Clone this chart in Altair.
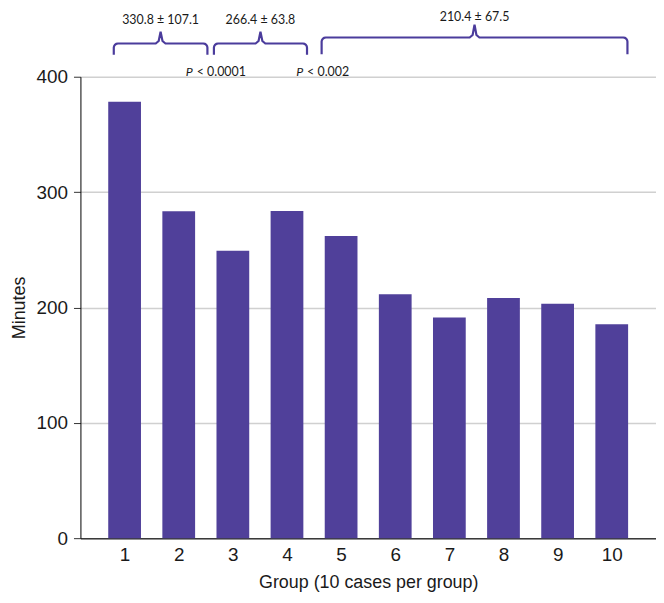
import altair as alt
import pandas as pd
import numpy as np

# ---- data ----
groups = list(range(1, 11))
minutes = [378.3, 283.3, 249.1, 283.7, 262.0, 211.5, 191.2, 208.2, 203.3, 185.5]

bracket_start = [0.80, 2.65, 4.64]
bracket_end = [2.53, 4.37, 10.29]
bracket_base = [419.0, 419.0, 419.4]
bracket_level = [428.8, 428.8, 434.0]
bracket_peak = [439.1, 439.1, 445.2]
bracket_labels = ["330.8 ± 107.1", "266.4 ± 63.8", "210.4 ± 67.5"]
bracket_label_y = [449.0, 449.0, 452.0]

p_x = [2.13, 4.17]
p_y = [400.4, 400.4]
p_text = ["< 0.0001", "< 0.002"]

BAR = "#50409A"
BRACE = "#4B3C9C"
INK = "#1a1a1a"

xscale = alt.Scale(domain=[0.2757, 10.726], nice=False, zero=False)
yscale = alt.Scale(domain=[0, 400], nice=False)

bars_df = pd.DataFrame({"group": groups, "minutes": minutes})

# build brace outlines from the bracket parameters
rows = []
rx, ry = 0.075, 3.6  # corner rounding (data units)
for b, (x0, x1, yb, yl, yp) in enumerate(zip(bracket_start, bracket_end, bracket_base,
                                            bracket_level, bracket_peak)):
    xm = (x0 + x1) / 2
    pts = [(x0, yb), (x0, yl - ry)]
    for a in np.linspace(np.pi, np.pi / 2, 5)[1:-1]:
        pts.append((x0 + rx + rx * np.cos(a), yl - ry + ry * np.sin(a)))
    pts += [(x0 + rx, yl), (xm - 0.09, yl), (xm - 0.035, yl + 2.2), (xm, yp),
            (xm + 0.035, yl + 2.2), (xm + 0.09, yl), (x1 - rx, yl)]
    for a in np.linspace(np.pi / 2, 0, 5)[1:-1]:
        pts.append((x1 - rx + rx * np.cos(a), yl - ry + ry * np.sin(a)))
    pts += [(x1, yl - ry), (x1, yb)]
    for i, (px, py) in enumerate(pts):
        rows.append({"b": b, "i": i, "x": px, "y": py})
brace_df = pd.DataFrame(rows)

lab_df = pd.DataFrame({
    "x": [(a + b) / 2 for a, b in zip(bracket_start, bracket_end)],
    "y": bracket_label_y,
    "t": bracket_labels,
})
p_df = pd.DataFrame({"x": p_x, "y": p_y, "t": p_text})

bars = alt.Chart(bars_df).mark_bar(size=33, color=BAR).encode(
    x=alt.X("group:Q", scale=xscale,
            axis=alt.Axis(values=groups, format="d", ticks=False, grid=False,
                          domainColor="#3a3a3a", domainWidth=1.5,
                          labelFontSize=19, labelColor=INK, labelPadding=8,
                          labelFont="Liberation Sans",
                          title="Group (10 cases per group)", titleFontSize=18,
                          titleFontWeight="normal", titleColor=INK,
                          titleFont="Liberation Sans", titlePadding=9)),
    y=alt.Y("minutes:Q", scale=yscale,
            axis=alt.Axis(values=[0, 100, 200, 300, 400], tickSize=7,
                          tickColor="#333333", domainColor="#000000",
                          gridColor="#d0d0d0", gridWidth=1.5,
                          labelFontSize=19, labelColor=INK, labelPadding=6,
                          labelFont="Liberation Sans",
                          title="Minutes", titleFontSize=18,
                          titleFontWeight="normal", titleColor=INK,
                          titleFont="Liberation Sans", titlePadding=8)),
)

braces = alt.Chart(brace_df).mark_line(color=BRACE, strokeWidth=2.2, clip=False).encode(
    x=alt.X("x:Q", scale=xscale),
    y=alt.Y("y:Q", scale=yscale),
    detail="b:N",
    order="i:Q",
)

labels = alt.Chart(lab_df).mark_text(font="Lato", fontSize=12.5, color=INK,
                                     baseline="middle", align="center").encode(
    x=alt.X("x:Q", scale=xscale), y=alt.Y("y:Q", scale=yscale), text="t:N")

p_italic = alt.Chart(p_df).mark_text(font="Lato", fontSize=12.5, color=INK, fontStyle="italic",
                                     baseline="alphabetic", align="left").encode(
    x=alt.X("x:Q", scale=xscale), y=alt.Y("y:Q", scale=yscale), text=alt.value("P"))

p_rest = alt.Chart(p_df).mark_text(font="Lato", fontSize=12.5, color=INK, dx=11,
                                   baseline="alphabetic", align="left").encode(
    x=alt.X("x:Q", scale=xscale), y=alt.Y("y:Q", scale=yscale), text="t:N")

chart = alt.layer(bars, braces, labels, p_italic, p_rest).properties(
    width=580, height=465,
    autosize=alt.AutoSizeParams(type="none"),
    padding={"left": 73, "top": 67, "right": 0, "bottom": 55},
).configure_view(stroke=None)

chart.save("out.html", embed_options={"renderer": "svg", "actions": False})
